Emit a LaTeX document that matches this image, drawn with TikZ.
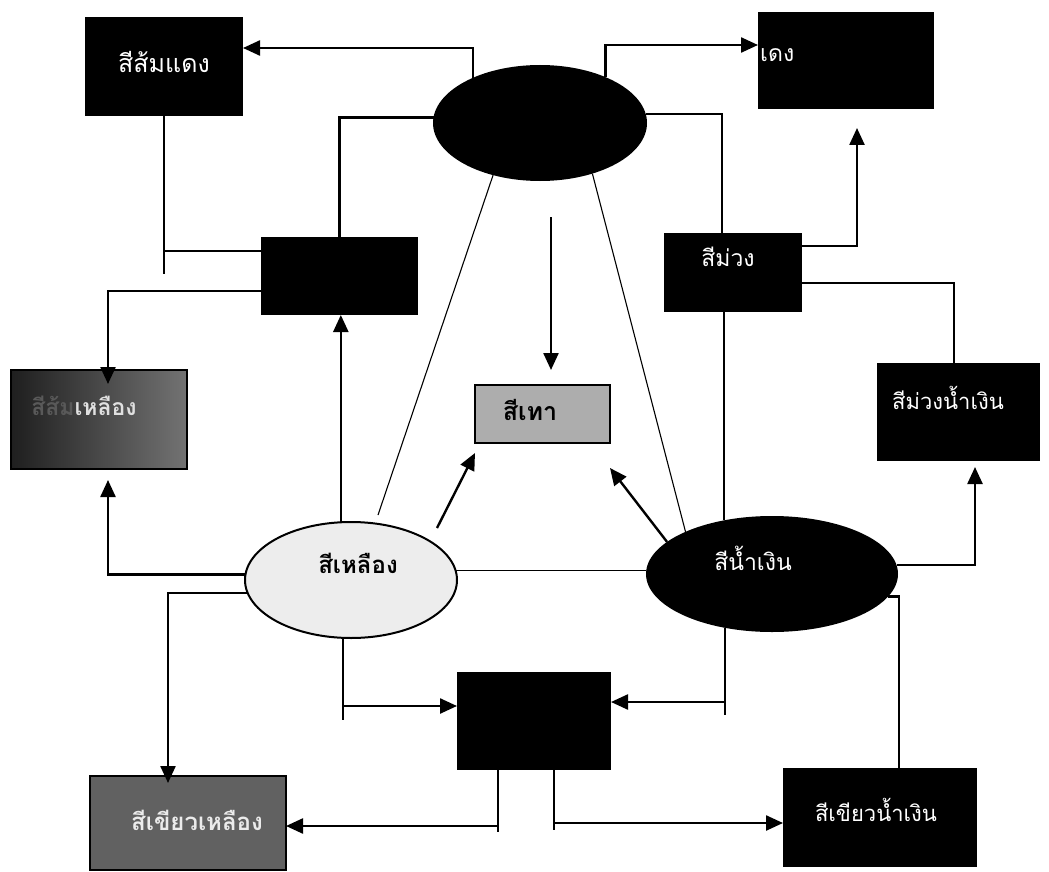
\documentclass[tikz,border=0pt]{standalone}
\usepackage{fontspec}
\newfontfamily\thai[Script=Thai]{Loma}
\usetikzlibrary{shapes.geometric,arrows.meta,calc}
\begin{document}
\begin{tikzpicture}[x=1pt,y=-1pt,
  conn/.style={line width=2.4pt,line join=miter},
  thinline/.style={line width=1.1pt},
  arr/.style={-{Triangle[length=17pt,width=15pt]}},
  blk/.style={rectangle,fill=black,draw=none,inner sep=0pt,outer sep=0pt},
  gbox/.style={rectangle,draw=black,line width=1.4pt,inner sep=0pt,outer sep=0pt},
  oval/.style={ellipse,inner sep=0pt,outer sep=0pt},
  wtxt/.style={text=white,inner sep=0pt,font=\thai\fontsize{23}{26}\selectfont},
  btxt/.style={text=black,inner sep=0pt,font=\thai\bfseries\fontsize{24}{28}\selectfont}]
\useasboundingbox (0,0) rectangle (1049,872);
\fill[white] (0,0) rectangle (1049,872);

% nodes
\node[blk,minimum width=158,minimum height=99] (orr) at (164,66.5) {};
\node[wtxt,font=\thai\fontsize{25}{28}\selectfont] (orrt) at (164,62) {สีส้มแดง};
\node[blk,minimum width=157,minimum height=78] (b1) at (339.5,276) {};
\node[gbox,left color=black!88,right color=black!55,minimum width=176,minimum height=99] (so) at (99,419.5) {};
\node[oval,fill=black,minimum width=214,minimum height=116] (top) at (540,123) {};
\node[blk,minimum width=176,minimum height=97] (red) at (846,60.5) {};
\node[wtxt,anchor=west] (redt) at (760,55) {เดง};
\node[blk,minimum width=138,minimum height=79] (sm) at (733,272.5) {};
\node[wtxt] (smt) at (728,257) {สีม่วง};
\node[blk,minimum width=163,minimum height=98] (smn) at (958.5,412) {};
\node[wtxt,font=\thai\fontsize{22}{26}\selectfont] (smnt) at (948,398) {สีม่วงน้ำเงิน};
\node[gbox,fill=black!32,minimum width=135,minimum height=58] (gray) at (542.5,414) {};
\node[btxt,font=\thai\bfseries\fontsize{25}{28}\selectfont] (grayt) at (530,410) {สีเทา};
\node[oval,draw=black,line width=2pt,fill=black!7,minimum width=212,minimum height=116] (yel) at (351,580) {};
\node[btxt] (yelt) at (358,563) {สีเหลือง};
\node[oval,fill=black,minimum width=252,minimum height=116] (blu) at (772,574) {};
\node[wtxt] (blut) at (753,558) {สีน้ำเงิน};
\node[blk,minimum width=154,minimum height=98] (bb) at (534,721) {};
\node[gbox,fill=black!62,minimum width=196,minimum height=94] (sgy) at (188,823) {};
\node[wtxt,text=black!8,font=\thai\bfseries\fontsize{24}{28}\selectfont] (sgyt) at (197,820) {สีเขียวเหลือง};
\node[blk,minimum width=194,minimum height=99] (sgb) at (880,817.5) {};
\node[wtxt,font=\thai\fontsize{22}{26}\selectfont] (sgbt) at (876,810) {สีเขียวน้ำเงิน};
\node[inner sep=0pt,font=\thai\bfseries\fontsize{23}{26}\selectfont] (sot) at (84,406) {\textcolor{black!65}{สีส้ม}\textcolor{black!12}{เหลือง}};

% free ends and bend points
\coordinate (c8) at (378,515);
\coordinate (gA) at (551,217);
\coordinate (gB) at (551,370);
\coordinate (c11a) at (437,528);
\coordinate (c11b) at (475,453);
\coordinate (c12) at (610,468);
\coordinate (c14) at (857,128);
\coordinate (c16) at (975,467);
\coordinate (c20) at (108,480);
\coordinate (orrE) at ($(orr.north east)+(0,31)$);
\coordinate (redW) at ($(red.north west)+(0,33)$);
\coordinate (smN) at ($(sm.north)+(-11,0)$);
\coordinate (orrS) at ($(orr.south)+(0,158)$);
\coordinate (b1W1) at ($(b1.west)+(0,-25)$);
\coordinate (b1W2) at ($(b1.west)+(0,15)$);
\coordinate (soN) at ($(so.north)+(9,14)$);
\coordinate (smE1) at ($(sm.east)+(0,-26.5)$);
\coordinate (smE2) at ($(sm.east)+(0,10.5)$);
\coordinate (smnN) at ($(smn.north)+(-4.5,0)$);
\coordinate (sgbN) at ($(sgb.north)+(19,0)$);
\coordinate (bluB) at ($(blu.229)+(0,87)$);
\coordinate (bbE) at ($(bb.east)+(0,-19)$);
\coordinate (yelB) at ($(yel.262)+(0,82)$);
\coordinate (bbW) at ($(bb.west)+(0,-15)$);
\coordinate (sgyN) at ($(sgy.north)+(-20,7)$);
\coordinate (bbS1) at ($(bb.south)+(-36,0)$);
\coordinate (bbS1e) at ($(bb.south)+(-36,62)$);
\coordinate (sgyE) at ($(sgy.east)+(0,3)$);
\coordinate (bbS2) at ($(bb.south)+(20,0)$);
\coordinate (bbS2e) at ($(bb.south)+(20,60)$);
\coordinate (sgbW) at ($(sgb.west)+(0,5.5)$);

% connectors
\draw[conn,arr] (top.146) |- (orrE);
\draw[conn,arr] (top.35) |- (redW);
\draw[conn] (top.177) -| (b1.north);
\draw[conn] (top.5) -| (smN);
\draw[conn] (orr.south) -- (orrS);
\draw[conn] (b1W1) -- (b1W1 -| orr.south);
\draw[conn,arr] (b1W2) -| (soN);
\draw[conn,arr] (yel.100) -- (yel.100 |- b1.south);
\draw[thinline] (c8) -- (top.228);
\draw[thinline] (top.-44) -- (blu.154);
\draw[conn,arr] (gA) -- (gB);
\draw[conn,arr] (c11a) -- (c11b);
\draw[conn,arr] (blu.163) -- (c12);
\draw[conn] (blu.132) -- (blu.132 |- sm.south);
\draw[conn,arr] (smE1) -| (c14);
\draw[conn] (smE2) -| (smnN);
\draw[conn,arr] (blu.4) -| (c16);
\draw[conn] (blu.-11) -| (sgbN);
\draw[conn] (blu.229) -- (bluB);
\draw[conn,arr] (bbE -| bluB) -- (bbE);
\draw[conn] (yel.262) -- (yelB);
\draw[conn,arr] (bbW -| yelB) -- (bbW);
\draw[conn,arr] (yel.177) -| (c20);
\draw[conn,arr] (yel.187) -| (sgyN);
\draw[conn] (bbS1) -- (bbS1e);
\draw[conn,arr] (sgyE -| bbS1) -- (sgyE);
\draw[conn] (bbS2) -- (bbS2e);
\draw[conn,arr] (sgbW -| bbS2) -- (sgbW);
\draw[thinline] (yel.5) -- (yel.5 -| blu.west);
\end{tikzpicture}
\end{document}
